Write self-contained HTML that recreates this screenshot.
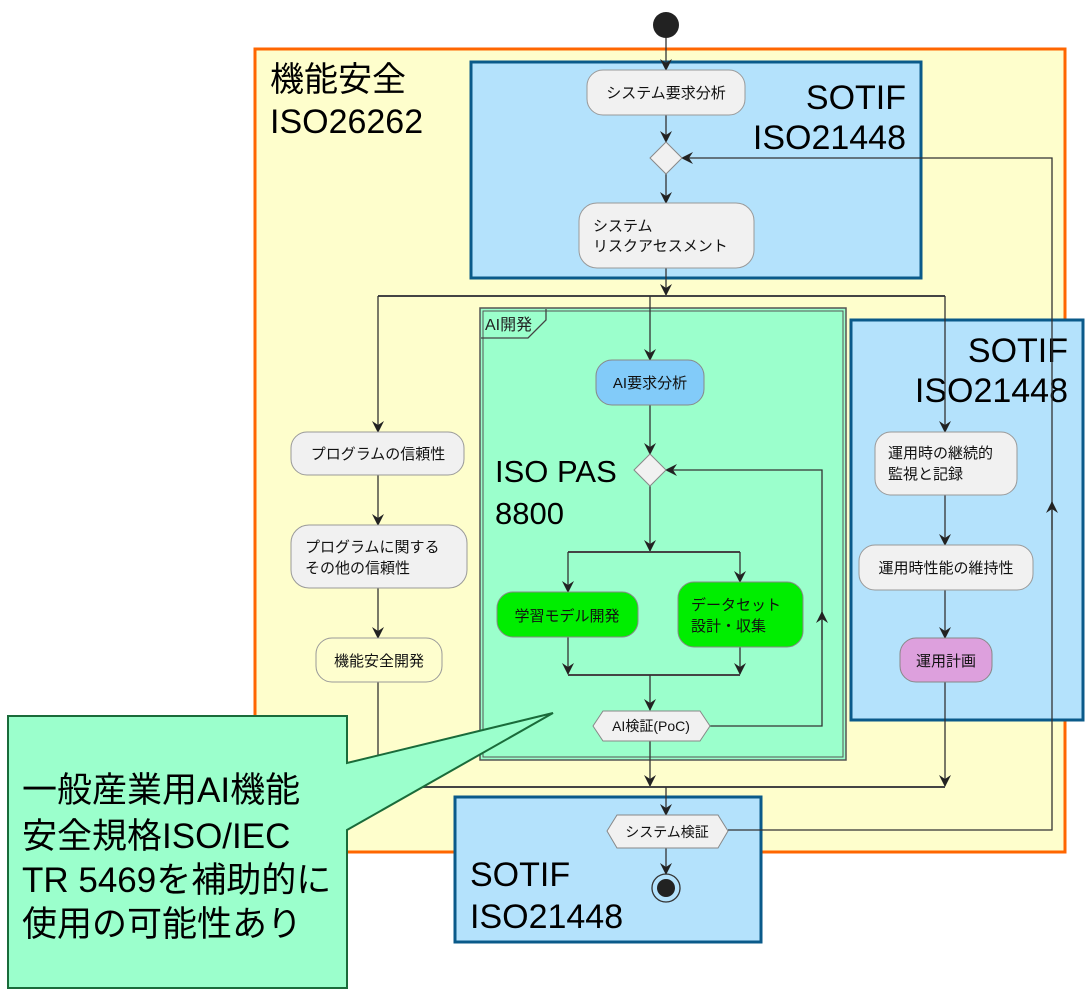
<!DOCTYPE html>
<html><head><meta charset="utf-8"><style>
html,body{margin:0;padding:0;background:#fff;}
svg{display:block;font-family:"Liberation Sans","Noto Sans CJK JP",sans-serif;}
.n{fill:#f1f1f1;stroke:#999;stroke-width:1;}
.t{font-size:15px;fill:#111;}
.l{stroke:#333;stroke-width:1.3;fill:none;}
.big{font-size:34px;fill:#000;}
</style></head><body>
<svg width="1092" height="991" viewBox="0 0 1092 991">
<defs>
<marker id="a" viewBox="0 0 12 12" refX="11" refY="6" markerWidth="12" markerHeight="12" markerUnits="userSpaceOnUse" orient="auto"><path d="M0,0 L12,6 L0,12 L4,6 Z" fill="#222"/></marker>
</defs>
<circle cx="666" cy="25" r="13" fill="#222"/>
<rect x="255" y="49" width="810" height="803" fill="#fefecc" stroke="#ff6600" stroke-width="3"/>
<text class="big" x="270" y="91">機能安全</text>
<text class="big" x="270" y="133">ISO26262</text>
<rect x="471" y="62" width="450" height="216" fill="#b4e2fc" stroke="#0a5a8a" stroke-width="3"/>
<text class="big" x="906" y="109" text-anchor="end">SOTIF</text>
<text class="big" x="906" y="149" text-anchor="end">ISO21448</text>
<rect x="851" y="320" width="232" height="400" fill="#b4e2fc" stroke="#0a5a8a" stroke-width="3"/>
<text class="big" x="1068" y="362" text-anchor="end">SOTIF</text>
<text class="big" x="1068" y="402" text-anchor="end">ISO21448</text>
<rect x="480" y="308" width="366" height="452" fill="#9bffcc" stroke="#555" stroke-width="1.5"/>
<rect x="483" y="311" width="360" height="446" fill="none" stroke="#555" stroke-width="1"/>
<path d="M481,338 H528 L546,320 V309" fill="none" stroke="#444" stroke-width="1.3"/>
<text x="485" y="330" font-size="16" fill="#222">AI開発</text>
<text x="495" y="482" font-size="31" fill="#000">ISO PAS</text>
<text x="495" y="524" font-size="31" fill="#000">8800</text>
<rect x="455" y="797" width="306" height="145" fill="#b4e2fc" stroke="#0a5a8a" stroke-width="3"/>
<text class="big" x="470" y="886">SOTIF</text>
<text class="big" x="470" y="928">ISO21448</text>

<path class="l" d="M666,38 V70" marker-end="url(#a)"/>
<path class="l" d="M666,115 V142" marker-end="url(#a)"/>
<path class="l" d="M666,174 V203" marker-end="url(#a)"/>
<path class="l" d="M666,268 V295" marker-end="url(#a)"/>
<path d="M378,296 H945" stroke="#444" stroke-width="2"/>
<path class="l" d="M378,296 V432" marker-end="url(#a)"/>
<path class="l" d="M650,296 V360" marker-end="url(#a)"/>
<path class="l" d="M945,296 V432" marker-end="url(#a)"/>
<path class="l" d="M650,405 V454" marker-end="url(#a)"/>
<path class="l" d="M650,486 V551" marker-end="url(#a)"/>
<path d="M568,552 H740" stroke="#444" stroke-width="2"/>
<path class="l" d="M568,552 V592" marker-end="url(#a)"/>
<path class="l" d="M740,552 V582" marker-end="url(#a)"/>
<path class="l" d="M568,637 V674" marker-end="url(#a)"/>
<path class="l" d="M740,647 V674" marker-end="url(#a)"/>
<path d="M568,675 H740" stroke="#444" stroke-width="2"/>
<path class="l" d="M650,675 V710" marker-end="url(#a)"/>
<path class="l" d="M710,726 H822 V612"/>
<path class="l" d="M822,640 V612" marker-end="url(#a)"/>
<path class="l" d="M822,612 V470 H666" marker-end="url(#a)"/>
<path class="l" d="M378,475 V525" marker-end="url(#a)"/>
<path class="l" d="M378,588 V638" marker-end="url(#a)"/>
<path class="l" d="M378,682 V787"/>
<path class="l" d="M945,495 V545" marker-end="url(#a)"/>
<path class="l" d="M945,590 V638" marker-end="url(#a)"/>
<path class="l" d="M945,682 V786" marker-end="url(#a)"/>
<path class="l" d="M650,740 V786" marker-end="url(#a)"/>
<path d="M340,787 H945" stroke="#444" stroke-width="2"/>
<path class="l" d="M666,787 V815" marker-end="url(#a)"/>
<path class="l" d="M666,848 V874" marker-end="url(#a)"/>
<path class="l" d="M728,830 H1052 V158 H682" marker-end="url(#a)"/>
<path class="l" d="M1052,530 V502" marker-end="url(#a)"/>

<rect class="n" x="587" y="70" width="158" height="45" rx="16"/>
<text class="t" x="666" y="98" text-anchor="middle">システム要求分析</text>
<path d="M666,142 L682,158 L666,174 L650,158 Z" fill="#f1f1f1" stroke="#888"/>
<rect class="n" x="579" y="203" width="175" height="65" rx="18"/>
<text class="t" x="593" y="231">システム</text>
<text class="t" x="593" y="251">リスクアセスメント</text>

<rect x="596" y="360" width="108" height="45" rx="16" fill="#82cbf9" stroke="#888"/>
<text class="t" x="650" y="388" text-anchor="middle">AI要求分析</text>
<path d="M650,454 L666,470 L650,486 L634,470 Z" fill="#f1f1f1" stroke="#888"/>
<rect x="497" y="592" width="141" height="45" rx="16" fill="#00ee00" stroke="#888"/>
<text class="t" x="567" y="621" text-anchor="middle">学習モデル開発</text>
<rect x="678" y="582" width="125" height="65" rx="16" fill="#00ee00" stroke="#888"/>
<text class="t" x="691" y="610">データセット</text>
<text class="t" x="691" y="631">設計・収集</text>
<path d="M603,711 H700 L710,726 L700,741 H603 L593,726 Z" fill="#f1f1f1" stroke="#888"/>
<text x="651" y="731" font-size="14" fill="#111" text-anchor="middle">AI検証(PoC)</text>

<rect class="n" x="291" y="432" width="173" height="43" rx="16"/>
<text class="t" x="378" y="459" text-anchor="middle">プログラムの信頼性</text>
<rect class="n" x="291" y="525" width="176" height="63" rx="18"/>
<text class="t" x="305" y="552">プログラムに関する</text>
<text class="t" x="305" y="573">その他の信頼性</text>
<rect x="316" y="638" width="126" height="44" rx="16" fill="#fefece" stroke="#999"/>
<text class="t" x="379" y="666" text-anchor="middle">機能安全開発</text>

<rect class="n" x="875" y="432" width="142" height="63" rx="16"/>
<text class="t" x="888" y="458">運用時の継続的</text>
<text class="t" x="888" y="479">監視と記録</text>
<rect class="n" x="859" y="545" width="174" height="45" rx="16"/>
<text class="t" x="946" y="573" text-anchor="middle">運用時性能の維持性</text>
<rect x="900" y="638" width="92" height="44" rx="16" fill="#dda0dd" stroke="#888"/>
<text class="t" x="946" y="666" text-anchor="middle">運用計画</text>

<path d="M617,815 H718 L728,831 L718,848 H617 L607,831 Z" fill="#f1f1f1" stroke="#888"/>
<text x="667" y="837" font-size="14" fill="#111" text-anchor="middle">システム検証</text>
<circle cx="666" cy="888" r="14" fill="none" stroke="#333" stroke-width="1.3"/>
<circle cx="666" cy="888" r="9" fill="#222"/>

<path d="M8,716 H347 V763 L553,713 L347,830 V988 H8 Z" fill="#9bffcc" stroke="#1a6b3a" stroke-width="2"/>
<text x="22" y="802" font-size="35" fill="#000">一般産業用AI機能</text>
<text x="22" y="848" font-size="35" fill="#000">安全規格ISO/IEC</text>
<text x="22" y="892" font-size="35" fill="#000">TR 5469を補助的に</text>
<text x="22" y="936" font-size="35" fill="#000">使用の可能性あり</text>
</svg>
</body></html>
